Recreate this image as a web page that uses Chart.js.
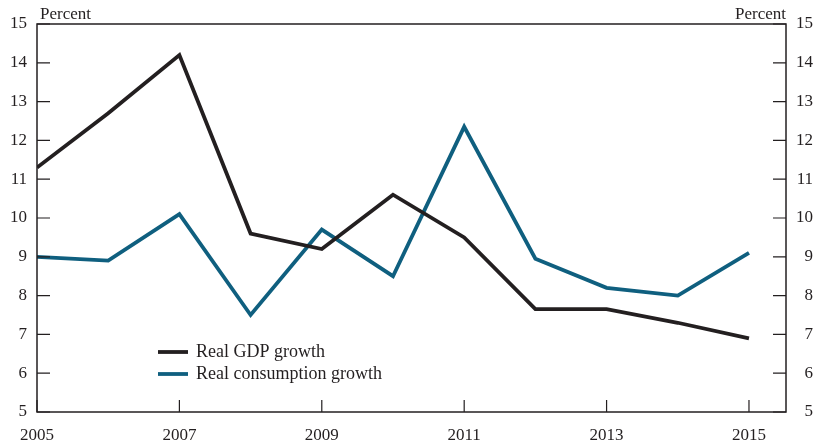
<!DOCTYPE html>
<html>
<head>
<meta charset="utf-8">
<script src="https://cdn.jsdelivr.net/npm/chart.js@4/dist/chart.umd.min.js"></script>
<style>
  html, body { margin: 0; padding: 0; background: #fff; }
  #wrap { width: 817px; height: 448px; }
</style>
</head>
<body>
<div id="wrap"><canvas id="myChart" width="817" height="448"></canvas></div>
<script>
const years = [2005, 2006, 2007, 2008, 2009, 2010, 2011, 2012, 2013, 2014, 2015];
const gdpGrowth = [11.3, 12.7, 14.2, 9.6, 9.2, 10.6, 9.5, 7.65, 7.65, 7.3, 6.9];
const consumptionGrowth = [9.0, 8.9, 10.1, 7.5, 9.7, 8.5, 12.35, 8.95, 8.2, 8.0, 9.1];
const xTicks = [2005, 2007, 2009, 2011, 2013, 2015];
const yTicks = [5, 6, 7, 8, 9, 10, 11, 12, 13, 14, 15];

const ink = '#231f20';
const blue = '#0f5f7f';
const serif = 'Liberation Serif, DejaVu Serif, serif';

const toPoints = (values) => values.map((v, i) => ({ x: years[i], y: v }));

//marcos, ticks hacia adentro, leyenda y "Percent"
const framePlugin = {
  id: 'frame',
  afterDraw(chart) {
    const { ctx, chartArea: a, scales } = chart;
    ctx.save();
    ctx.strokeStyle = ink;
    ctx.lineWidth = 1.5;
    ctx.strokeRect(a.left, a.top, a.right - a.left, a.bottom - a.top);

    ctx.lineWidth = 1.2;
    ctx.beginPath();
    yTicks.forEach((t) => {
      const y = scales.y.getPixelForValue(t);
      ctx.moveTo(a.left, y);
      ctx.lineTo(a.left + 13, y);
      ctx.moveTo(a.right, y);
      ctx.lineTo(a.right - 13, y);
    });
    xTicks.forEach((t) => {
      const x = scales.x.getPixelForValue(t);
      ctx.moveTo(x, a.bottom);
      ctx.lineTo(x, a.bottom - 12);
    });
    ctx.stroke();

    ctx.fillStyle = ink;
    ctx.font = '17px ' + serif;
    ctx.textBaseline = 'alphabetic';
    ctx.textAlign = 'left';
    ctx.fillText('Percent', a.left + 3, 19);
    ctx.textAlign = 'right';
    ctx.fillText('Percent', a.right, 19);

    // leyenda
    ctx.font = '18px ' + serif;
    ctx.textAlign = 'left';
    ctx.textBaseline = 'middle';
    ctx.lineWidth = 3.8;
    chart.data.datasets.forEach((ds, i) => {
      const y = 352 + i * 22;
      ctx.strokeStyle = ds.borderColor;
      ctx.beginPath();
      ctx.moveTo(158, y);
      ctx.lineTo(188, y);
      ctx.stroke();
      ctx.fillText(ds.label, 196, y);
    });
    ctx.restore();
  },
};

const tickFont = { family: serif, size: 17 };

new Chart(document.getElementById('myChart'), {
  type: 'line',
  data: {
    datasets: [
      {
        label: 'Real GDP growth',
        data: toPoints(gdpGrowth),
        borderColor: ink,
        borderWidth: 3.8,
        pointRadius: 0,
        tension: 0,
      },
      {
        label: 'Real consumption growth',
        data: toPoints(consumptionGrowth),
        borderColor: blue,
        borderWidth: 3.8,
        pointRadius: 0,
        tension: 0,
      },
    ],
  },
  options: {
    responsive: false,
    animation: false,
    layout: { padding: { top: 24, left: 0, right: 4, bottom: 0 } },
    plugins: { legend: { display: false }, tooltip: { enabled: false } },
    scales: {
      x: {
        type: 'linear',
        min: 2005,
        max: 2015.52,
        afterBuildTicks: (s) => { s.ticks = xTicks.map((v) => ({ value: v })); },
        afterFit: (s) => { s.height = 36; },
        grid: { display: false, drawTicks: false },
        border: { display: false },
        ticks: {
          font: tickFont,
          color: ink,
          padding: 13,
          maxRotation: 0,
          autoSkip: false,
          callback: (v) => String(v),
        },
      },
      y: {
        position: 'left',
        min: 5,
        max: 15,
        afterBuildTicks: (s) => { s.ticks = yTicks.map((v) => ({ value: v })); },
        afterFit: (s) => { s.width = 37; },
        grid: { display: false, drawTicks: false },
        border: { display: false },
        ticks: { font: tickFont, color: ink, padding: 10 },
      },
      y2: {
        position: 'right',
        min: 5,
        max: 15,
        afterBuildTicks: (s) => { s.ticks = yTicks.map((v) => ({ value: v })); },
        afterFit: (s) => { s.width = 27; },
        grid: { display: false, drawTicks: false },
        border: { display: false },
        ticks: { font: tickFont, color: ink, padding: 6, crossAlign: 'far' },
      },
    },
  },
  plugins: [framePlugin],
});
</script>
</body>
</html>
